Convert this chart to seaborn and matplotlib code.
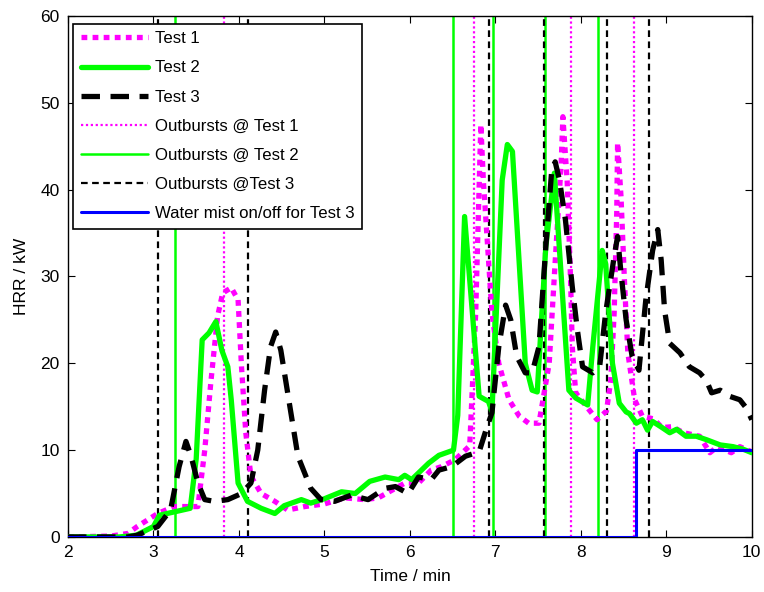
import numpy as np
import pandas as pd
import matplotlib
matplotlib.use("Agg")
import matplotlib.pyplot as plt
import seaborn as sns

sns.set_style("ticks")
plt.rcParams["font.family"] = ["Liberation Sans", "DejaVu Sans"]
plt.rcParams["text.color"] = "black"
plt.rcParams["axes.labelcolor"] = "black"
plt.rcParams["xtick.color"] = "black"
plt.rcParams["ytick.color"] = "black"

# HRR curves (time in min, HRR in kW)
t1_time = [2.0, 2.5, 2.7, 2.81, 3.05, 3.24, 3.52, 3.6, 3.67, 3.75, 3.81, 3.91, 3.99, 4.03, 4.08,
           4.14, 4.26, 4.42, 4.57, 4.77, 5.0, 5.24, 5.47, 5.63, 5.94, 6.1, 6.25, 6.37, 6.53, 6.7,
           6.77, 6.83, 6.86, 6.96, 7.04, 7.16, 7.28, 7.39, 7.51, 7.63, 7.71, 7.77, 7.79, 7.84,
           7.88, 7.9, 7.94, 8.1, 8.19, 8.3, 8.35, 8.39, 8.42, 8.43, 8.47, 8.51, 8.55, 8.63, 8.72,
           8.85, 8.95, 9.07, 9.2, 9.3, 9.39, 9.51, 9.6, 9.76, 9.86, 10.0]
t1_hrr = [0.0, 0.1, 0.4, 1.2, 2.7, 3.5, 3.5, 10.0, 17.7, 25.4, 28.1, 28.7, 27.3, 19.6, 12.0,
          7.0, 5.0, 4.1, 3.1, 3.5, 3.8, 4.5, 4.3, 4.5, 6.2, 6.2, 7.7, 8.1, 8.9, 10.5,
          25.8, 47.5, 41.0, 25.8, 20.0, 15.8, 13.9, 13.1, 13.1, 20.0, 33.4, 43.0, 48.4, 41.0,
          29.6, 21.9, 16.6, 14.6, 13.5, 14.5, 18.0, 25.8, 37.3, 45.4, 39.2, 29.6, 21.2, 15.8, 13.9,
          13.6, 12.6, 12.7, 12.0, 11.8, 11.6, 9.7, 10.4, 9.7, 10.4, 9.8]

t2_time = [2.0, 2.6, 2.8, 3.0, 3.07, 3.25, 3.43, 3.5, 3.57, 3.65, 3.73, 3.8, 3.87, 3.91, 3.99,
           4.1, 4.26, 4.42, 4.53, 4.73, 4.84, 5.0, 5.2, 5.36, 5.53, 5.71, 5.87, 5.94, 6.02, 6.22,
           6.34, 6.51, 6.56, 6.64, 6.81, 6.92, 6.96, 7.08, 7.14, 7.2, 7.35, 7.43, 7.49, 7.59,
           7.69, 7.86, 7.94, 8.08, 8.14, 8.25, 8.29, 8.37, 8.45, 8.53, 8.57, 8.65, 8.72, 8.78,
           8.84, 8.95, 9.04, 9.12, 9.23, 9.35, 9.47, 9.63, 9.78, 9.9, 10.0]
t2_hrr = [0.0, 0.0, 0.2, 1.2, 2.5, 2.9, 3.3, 9.0, 22.7, 23.5, 24.8, 21.5, 19.6, 15.8, 6.2,
          4.1, 3.3, 2.7, 3.6, 4.3, 3.9, 4.4, 5.2, 5.0, 6.4, 6.9, 6.6, 7.1, 6.6, 8.5,
          9.4, 10.0, 14.0, 36.9, 16.2, 15.6, 14.4, 41.1, 45.2, 44.4, 20.0, 16.9, 16.7, 33.4,
          41.9, 16.9, 16.0, 15.2, 21.9, 33.0, 31.5, 20.0, 15.4, 14.4, 14.2, 13.1, 13.5, 12.3,
          13.3, 12.6, 12.0, 12.4, 11.6, 11.6, 11.2, 10.6, 10.4, 10.1, 9.7]

t3_time = [2.0, 2.7, 2.81, 3.05, 3.2, 3.3, 3.38, 3.44, 3.52, 3.6, 3.71, 3.87, 4.03, 4.14, 4.22,
           4.3, 4.37, 4.43, 4.49, 4.57, 4.69, 4.84, 4.96, 5.12, 5.31, 5.51, 5.71, 5.83, 5.98,
           6.1, 6.25, 6.34, 6.49, 6.65, 6.81, 6.89, 6.96, 7.04, 7.12, 7.18, 7.25, 7.35, 7.43,
           7.51, 7.59, 7.66, 7.7, 7.75, 7.82, 7.9, 7.96, 8.02, 8.14, 8.22, 8.29, 8.39, 8.43,
           8.47, 8.53, 8.6, 8.68, 8.76, 8.84, 8.9, 8.94, 8.98, 9.04, 9.16, 9.27, 9.39, 9.47,
           9.53, 9.63, 9.74, 9.86, 9.94, 10.0]
t3_hrr = [0.0, 0.0, 0.2, 1.2, 3.1, 8.1, 11.0, 9.3, 6.2, 4.3, 4.1, 4.3, 5.0, 6.2, 10.0,
          16.9, 21.9, 23.6, 21.5, 16.6, 9.3, 5.6, 4.3, 4.1, 4.8, 4.3, 5.6, 5.8, 5.0,
          6.9, 6.6, 7.7, 8.1, 9.3, 9.8, 12.3, 14.3, 21.9, 26.7, 25.0, 20.8, 18.9, 18.9,
          21.9, 33.4, 42.3, 43.2, 41.1, 36.5, 28.8, 23.8, 19.6, 18.9, 19.6, 25.8, 32.3, 34.6,
          30.4, 25.0, 20.8, 19.2, 27.3, 33.0, 35.4, 31.9, 26.1, 22.3, 21.2, 19.6, 18.9, 18.0,
          16.6, 16.9, 16.2, 15.8, 14.8, 13.5]

# outburst times (min)
outburst_t1 = [3.82, 6.75, 7.89, 8.62]
outburst_t2 = [3.25, 6.50, 6.97, 7.58, 8.20]
outburst_t3 = [3.05, 4.11, 6.92, 7.57, 8.31, 8.80]

# water mist on/off for Test 3
mist_time = [2.0, 8.65, 8.65, 10.0]
mist_state = [0, 0, 10, 10]

MAGENTA = "#ff00ff"
GREEN = "#00ff00"
BLACK = "#000000"
BLUE = "#0000ff"

fig = plt.figure(figsize=(7.64, 5.92), dpi=100)
ax = fig.add_axes([0.089, 0.093, 0.895, 0.88])

df1 = pd.DataFrame({"time": t1_time, "hrr": t1_hrr})
df2 = pd.DataFrame({"time": t2_time, "hrr": t2_hrr})
df3 = pd.DataFrame({"time": t3_time, "hrr": t3_hrr})
dfm = pd.DataFrame({"time": mist_time, "hrr": mist_state})

sns.lineplot(data=df1, x="time", y="hrr", ax=ax, color=MAGENTA, lw=3.8, ls=(0, (1.1, 1.0)),
             label="Test 1", sort=False, estimator=None, zorder=3)
sns.lineplot(data=df2, x="time", y="hrr", ax=ax, color=GREEN, lw=3.8, label="Test 2",
             sort=False, estimator=None, zorder=3)
sns.lineplot(data=df3, x="time", y="hrr", ax=ax, color=BLACK, lw=3.8, ls=(0, (3.5, 2.0)),
             label="Test 3", sort=False, estimator=None, zorder=3)

for i, t in enumerate(outburst_t1):
    ax.axvline(t, color=MAGENTA, lw=1.6, ls=(0, (1, 1.2)),
               label="Outbursts @ Test 1" if i == 0 else None, zorder=2)
for i, t in enumerate(outburst_t2):
    ax.axvline(t, color=GREEN, lw=1.8, ls="-",
               label="Outbursts @ Test 2" if i == 0 else None, zorder=2)
for i, t in enumerate(outburst_t3):
    ax.axvline(t, color=BLACK, lw=1.6, ls=(0, (3, 2)),
               label="Outbursts @Test 3" if i == 0 else None, zorder=2)

sns.lineplot(data=dfm, x="time", y="hrr", ax=ax, color=BLUE, lw=2.2,
             label="Water mist on/off for Test 3", sort=False, estimator=None, zorder=4)

ax.set_xlim(2, 10)
ax.set_ylim(0, 60)
ax.set_xticks(range(2, 11))
ax.set_yticks(range(0, 61, 10))
ax.set_xlabel("Time / min", fontsize=12.5, labelpad=6)
ax.set_ylabel("HRR / kW", fontsize=12.5, labelpad=8)
ax.tick_params(direction="in", top=True, right=True, labelsize=12.5, length=5, width=0.8, pad=6)
for s in ax.spines.values():
    s.set_linewidth(1)
    s.set_color("black")

leg = ax.legend(loc="upper left", bbox_to_anchor=(0.008, 0.985), fontsize=12.1,
                frameon=True, fancybox=False, framealpha=1, edgecolor="black",
                handlelength=4.0, borderpad=0.45, labelspacing=0.84, handletextpad=0.4,
                borderaxespad=0.0)
leg.get_frame().set_linewidth(1.2)

fig.savefig("out.png", dpi=100)
